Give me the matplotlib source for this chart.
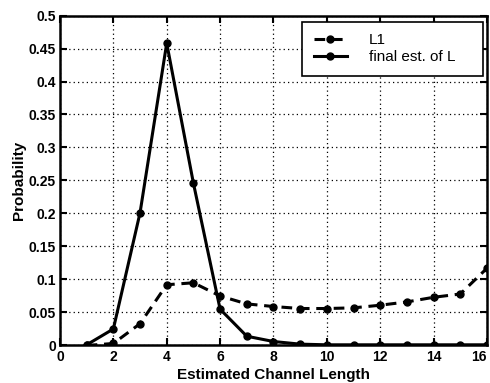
import numpy as np
import matplotlib.pyplot as plt

plt.rcParams['font.family'] = ['Liberation Sans', 'DejaVu Sans']

# estimated channel length 1..16
lengths = np.arange(1, 17)

# L1 (dashed)
prob_l1 = [0.0, 0.003, 0.033, 0.092, 0.095, 0.075, 0.063, 0.059,
           0.056, 0.056, 0.057, 0.061, 0.066, 0.073, 0.078, 0.117]
# final estimate of L (solid)
prob_final = [0.001, 0.025, 0.201, 0.458, 0.246, 0.055, 0.014, 0.006,
              0.002, 0.001, 0.001, 0.001, 0.001, 0.001, 0.001, 0.001]

ytick_labels = ['0', '0.05', '0.1', '0.15', '0.2', '0.25', '0.3', '0.35', '0.4', '0.45', '0.5']

fig = plt.figure(figsize=(4.9, 3.83), dpi=100)
ax = fig.add_axes([0.1224, 0.098, 0.8714, 0.8615])

ax.plot(lengths, prob_l1, color='black', linestyle=(0, (3.5, 2.2)), linewidth=2.2,
        marker='o', markersize=5, label='L1')
ax.plot(lengths, prob_final, color='black', linestyle='-', linewidth=2.2,
        marker='o', markersize=5, label='final est. of L')

ax.set_xlim(0, 16)
ax.set_ylim(0, 0.5)
ax.set_xticks(np.arange(0, 17, 2))
ax.set_yticks(np.arange(0, 0.51, 0.05))
ax.set_yticklabels(ytick_labels)

ax.grid(True, color='black', linestyle=(0, (1, 2.5)), linewidth=0.9)
ax.tick_params(direction='in', length=5, width=1.5, top=True, right=True,
               labelsize=10, pad=3)
for lab in ax.get_xticklabels() + ax.get_yticklabels():
    lab.set_fontweight('bold')
# last x label sits at the figure edge, keep it inside
ax.get_xticklabels()[-1].set_horizontalalignment('right')
for sp in ax.spines.values():
    sp.set_linewidth(1.8)

ax.set_xlabel('Estimated Channel Length', fontsize=11, fontweight='bold', labelpad=3)
ax.set_ylabel('Probability', fontsize=11, fontweight='bold', labelpad=2)

leg = ax.legend(loc='upper left', bbox_to_anchor=(0.567, 0.81, 0.424, 0.171),
                mode='expand', borderaxespad=0,
                fontsize=11, fancybox=False, edgecolor='black', framealpha=1,
                handlelength=2.2, handletextpad=1.4, borderpad=0.75,
                labelspacing=0.2)
leg.get_frame().set_linewidth(1.2)

plt.savefig('out.png', dpi=100)
